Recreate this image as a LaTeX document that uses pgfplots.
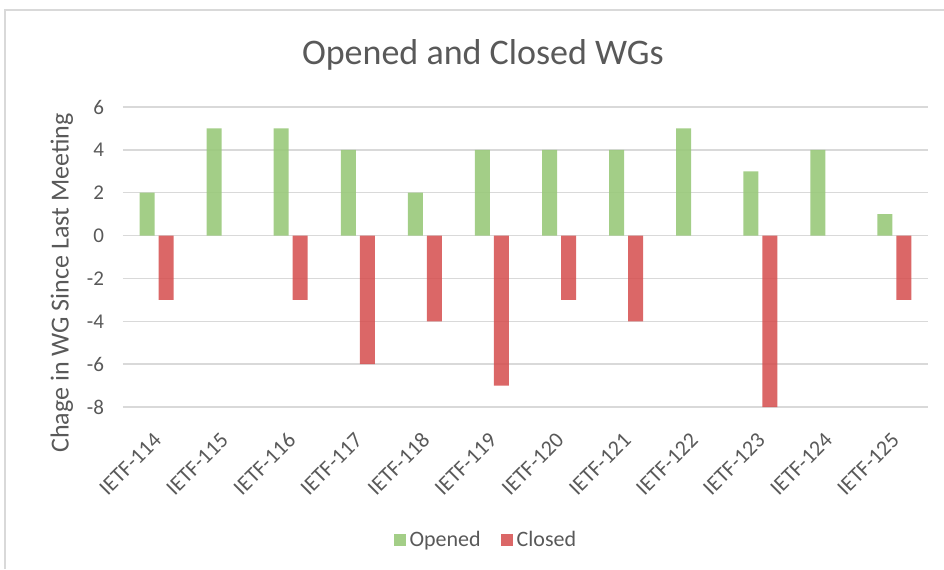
\documentclass[border=0pt]{standalone}
\usepackage{fontspec}
\setmainfont{Carlito}
\usepackage{pgfplots}
\pgfplotsset{compat=1.18}
\definecolor{txt}{HTML}{595959}
\definecolor{gridc}{HTML}{D9D9D9}
\definecolor{opened}{RGB}{153,201,122}
\definecolor{closed}{RGB}{213,76,76}
\begin{document}
\begin{tikzpicture}
\useasboundingbox (0,0) rectangle (472pt,284.5pt);
% chart frame (cropped)
\draw[gridc, line width=1pt] (2.5pt,0) -- (2.5pt,279.5pt) -- (472pt,279.5pt);
\begin{axis}[
    at={(61.5pt,81pt)}, anchor=south west,
    scale only axis, width=402.5pt, height=150pt,
    ybar=2pt, bar width=7.5pt,
    xmin=-0.5, xmax=11.5, ymin=-8, ymax=6,
    xtick={0,...,11},
    xticklabels={IETF-114,IETF-115,IETF-116,IETF-117,IETF-118,IETF-119,IETF-120,IETF-121,IETF-122,IETF-123,IETF-124,IETF-125},
    ytick={-8,-6,-4,-2,0,2,4,6},
    yticklabels={-8,-6,-4,-2,0,2,4,6},
    ymajorgrids, major grid style={gridc, line width=0.75pt},
    axis line style={draw=none}, tick style={draw=none},
    ticklabel style={text=txt},
    yticklabel style={xshift=-6pt, font=\fontsize{10.5}{12}\selectfont},
    xticklabel style={xshift=3pt, yshift=-8pt, rotate=45, anchor=east, font=\fontsize{11}{13}\selectfont},
    title={Opened and Closed WGs},
    title style={at={(axis description cs:0.447,1.135)}, anchor=center, font=\fontsize{18}{21}\selectfont, text=txt},
    ylabel={Chage in WG Since Last Meeting},
    ylabel style={at={(axis description cs:-0.076,0.413)}, anchor=center, font=\fontsize{13}{15}\selectfont, text=txt},
    legend columns=2,
    legend style={at={(axis description cs:0.452,-0.443)}, anchor=center, draw=none, fill=none,
        font=\fontsize{11}{13}\selectfont, text=txt,
        /tikz/every even column/.append style={column sep=8pt}},
    legend image code/.code={\fill[#1] (0pt,-3pt) rectangle (6pt,3pt);},
]
\addplot[fill=opened, fill opacity=0.9, draw=none] coordinates {
    (0,2) (1,5) (2,5) (3,4) (4,2) (5,4) (6,4) (7,4) (8,5) (9,3) (10,4) (11,1)};
\addplot[fill=closed, fill opacity=0.85, draw=none] coordinates {
    (0,-3) (2,-3) (3,-6) (4,-4) (5,-7) (6,-3) (7,-4) (9,-8) (11,-3)};
\legend{Opened, Closed}
\end{axis}
\end{tikzpicture}
\end{document}
